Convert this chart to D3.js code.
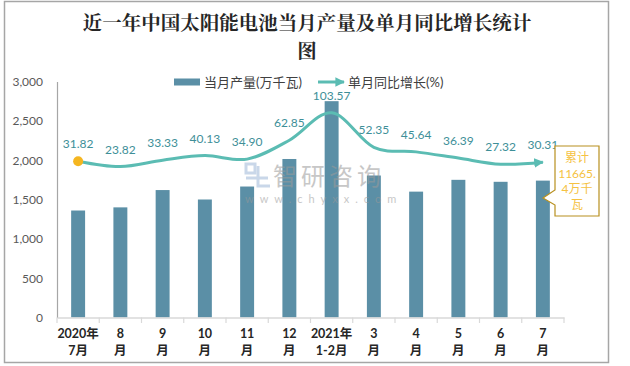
<!DOCTYPE html>
<html><head><meta charset="utf-8">
<script src="https://cdn.jsdelivr.net/npm/d3@7"></script>
<style>body{margin:0;background:#fff}svg{display:block}</style>
</head><body>
<svg id="c" width="630" height="366"></svg>
<script>
const categories = ["2020年|7月","8|月","9|月","10|月","11|月","12|月","2021年|1-2月","3|月","4|月","5|月","6|月","7|月"];
const output = [1360, 1400, 1620, 1500, 1665, 2015, 2750, 1805, 1600, 1750, 1725, 1740];
const growth = [31.82, 23.82, 33.33, 40.13, 34.90, 62.85, 103.57, 52.35, 45.64, 36.39, 27.32, 30.31];
const yTicks = [0, 500, 1000, 1500, 2000, 2500, 3000];
const title = ["近一年中国太阳能电池当月产量及单月同比增长统计", "图"];
const legendNames = ["当月产量(万千瓦)", "单月同比增长(%)"];
const noteLines = ["累计", "11665.", "4万千", "瓦"];

const svg = d3.select("#c");
const numFont = "Lato, 'Noto Sans CJK SC', sans-serif";
const cjk = "'Noto Sans CJK SC', sans-serif";

// border
svg.append("rect").attr("x",4.5).attr("y",1.5).attr("width",604).attr("height",361)
  .attr("fill","#fff").attr("stroke","#a6a6a6").attr("stroke-width",1.5);

// title
svg.append("g").selectAll("text").data(title).join("text")
  .attr("x",307).attr("y",(d,i)=>30+i*27.5).attr("text-anchor","middle")
  .attr("font-family","'Noto Serif CJK SC','Noto Sans CJK SC',serif").attr("font-weight","bold")
  .attr("font-size",19.5).attr("fill","#262626").text(d=>d);

const x = d3.scaleBand().domain(categories).range([57,564]).paddingInner(0.67).paddingOuter(0.335);
const y = d3.scaleLinear().domain([0,3000]).range([317.5,81.5]);
const y2 = d3.scaleLinear().domain([-200,150]).range([317.5,81.5]);
const cx = d => x(d) + x.bandwidth()/2;

// y axis
const ya = svg.append("g").attr("transform","translate(57,0)")
  .call(d3.axisLeft(y).tickValues(yTicks).tickSize(0).tickPadding(14).tickFormat(d3.format(",")));
ya.select(".domain").attr("stroke","#a6a6a6").attr("stroke-width",1.2);
ya.selectAll("text").attr("font-family",numFont).attr("font-size",12).attr("fill","#595959");

// bars
svg.append("g").selectAll("rect").data(output).join("rect")
  .attr("x",(d,i)=>x(categories[i])).attr("width",x.bandwidth())
  .attr("y",d=>y(d)).attr("height",d=>y(0)-y(d)).attr("fill","#5b8fa6");

// x axis
const xa = svg.append("g").attr("transform","translate(0,317.5)")
  .call(d3.axisBottom(x).tickSize(0).tickFormat(""));
xa.select(".domain").attr("stroke","#d9d9d9").attr("stroke-width",1.5);
const step = x.step();
svg.append("g").selectAll("line").data(d3.range(categories.length+1)).join("line")
  .attr("x1",i=>57+i*step).attr("x2",i=>57+i*step).attr("y1",317.5).attr("y2",323)
  .attr("stroke","#d9d9d9").attr("stroke-width",1.2);
const xl = svg.append("g").selectAll("text").data(categories).join("text")
  .attr("text-anchor","middle").attr("font-family",numFont).attr("font-weight","bold")
  .attr("font-size",12.5).attr("fill","#262626");
xl.append("tspan").attr("x",d=>cx(d)).attr("y",338).text(d=>d.split("|")[0]);
xl.append("tspan").attr("x",d=>cx(d)).attr("y",355).text(d=>d.split("|")[1]);

// watermark
const wm = svg.append("g").attr("opacity",0.55);
wm.append("rect").attr("x",246).attr("y",164).attr("width",9).attr("height",9).attr("fill","none").attr("stroke","#9db8d8").attr("stroke-width",3);
wm.append("path").attr("d","M246,178 H268 M258,166 V186 H270").attr("fill","none").attr("stroke","#9db8d8").attr("stroke-width",3);
wm.append("text").attr("x",273).attr("y",185).attr("font-family",cjk).attr("font-size",24)
  .attr("fill","#9a9a9a").attr("letter-spacing",4).text("智研咨询");
wm.append("text").attr("x",245).attr("y",203).attr("font-family",numFont).attr("font-size",11)
  .attr("fill","#9a9a9a").attr("letter-spacing",6).text("www.chyxx.com");

// line
const defs = svg.append("defs");
defs.append("marker").attr("id","arr").attr("viewBox","0 0 10 10").attr("refX",9).attr("refY",5)
  .attr("markerWidth",3.2).attr("markerHeight",3.2).attr("orient","auto")
  .append("path").attr("d","M0,0 L10,5 L0,10 Z").attr("fill","#5bbcb3");
const line = d3.line().x((d,i)=>cx(categories[i])).y(d=>y2(d)).curve(d3.curveCatmullRom.alpha(0));
svg.append("path").datum(growth).attr("d",line).attr("fill","none")
  .attr("stroke","#5bbcb3").attr("stroke-width",3).attr("marker-end","url(#arr)");
svg.append("circle").attr("cx",cx(categories[0])).attr("cy",y2(growth[0])).attr("r",5).attr("fill","#f5b620");

// data labels
svg.append("g").selectAll("text").data(growth).join("text")
  .attr("x",(d,i)=>cx(categories[i])).attr("y",d=>y2(d)-13)
  .attr("text-anchor","middle").attr("font-family",numFont).attr("font-size",12)
  .attr("fill","#3e8f98").text(d=>d.toFixed(2));

// legend
const lg = svg.append("g");
lg.append("rect").attr("x",174).attr("y",78.5).attr("width",26).attr("height",7).attr("fill","#5b8fa6");
lg.append("text").attr("x",204).attr("y",87).attr("font-family",numFont).attr("font-size",13).attr("fill","#404040").text(legendNames[0]);
lg.append("line").attr("x1",318).attr("x2",344).attr("y1",82).attr("y2",82).attr("stroke","#5bbcb3").attr("stroke-width",3).attr("marker-end","url(#arr)");
lg.append("text").attr("x",348).attr("y",87).attr("font-family",numFont).attr("font-size",13).attr("fill","#404040").text(legendNames[1]);

// annotation callout
svg.append("path").attr("d","M555,146 H599 V216 H555 V205 L543,198 L555,190 Z")
  .attr("fill","#fff").attr("stroke","#b8901f").attr("stroke-width",1.2);
svg.append("g").selectAll("text").data(noteLines).join("text")
  .attr("x",577).attr("y",(d,i)=>162+i*15.5).attr("text-anchor","middle")
  .attr("font-family",numFont).attr("font-size",12).attr("fill","#f5c242").text(d=>d);
</script>
</body></html>
